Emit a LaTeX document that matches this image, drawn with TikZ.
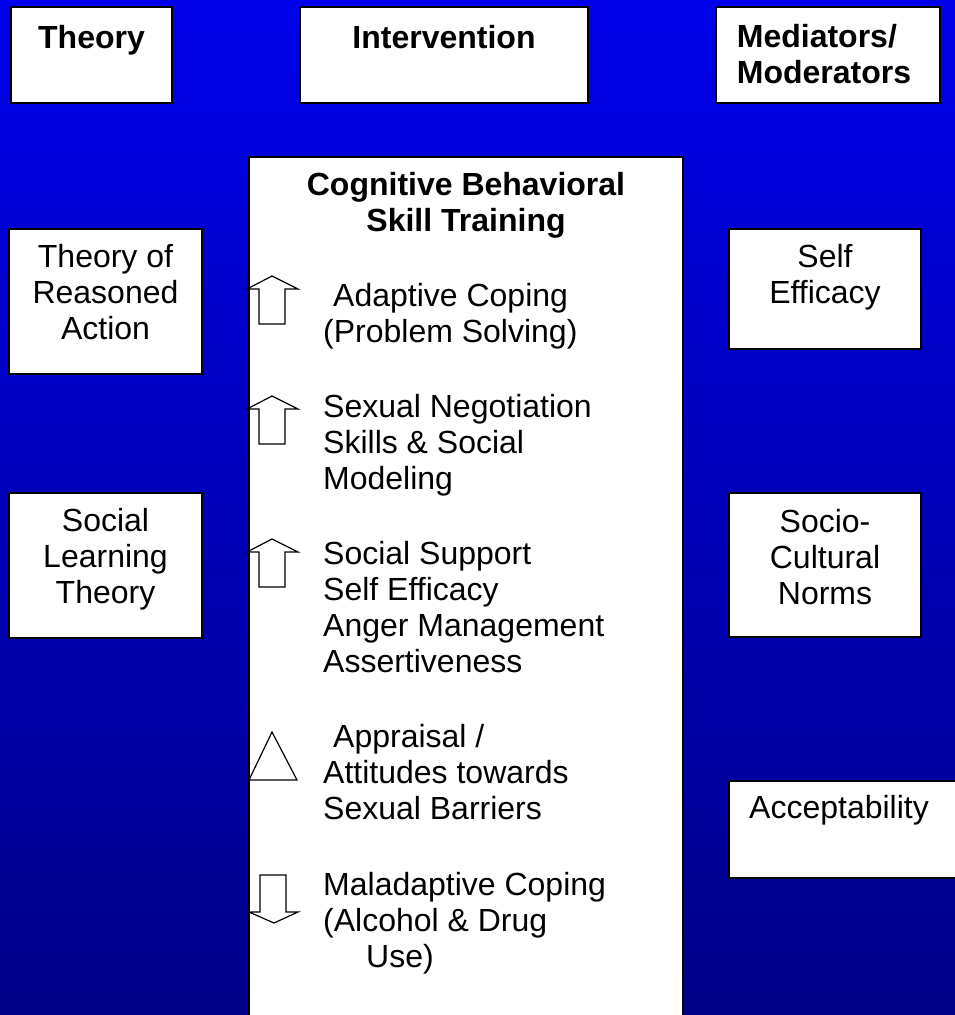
\documentclass[tikz,border=0pt]{standalone}
\usepackage{fontspec}
\setmainfont{Liberation Sans}
\usetikzlibrary{positioning}
\definecolor{bgtop}{RGB}{0,0,235}
\definecolor{bgmid}{RGB}{0,0,185}
\definecolor{bgbot}{RGB}{0,0,135}
\begin{document}
\begin{tikzpicture}[x=1pt,y=-1pt,
  box/.style={draw=black,fill=white,line width=2pt,inner sep=0pt,anchor=north west},
  txt/.style={inner sep=0pt,align=center,font=\fontsize{32}{36}\selectfont},
  head/.style={inner sep=0pt,align=center,font=\fontsize{32}{36}\selectfont\bfseries},
  item/.style={inner sep=0pt,align=left,anchor=north west,font=\fontsize{32}{36}\selectfont},
  sym/.style={draw=black,fill=white,line width=1.2pt,line join=miter}]
\useasboundingbox (0,0) rectangle (954,1015);
\shade[top color=bgtop,middle color=bgmid,bottom color=bgbot] (-5,-5) rectangle (960,1020);
\node[box,minimum width=161,minimum height=96] (theory) at (10,6) {};
\node[box,minimum width=288,minimum height=96] (interv) at (299,6) {};
\node[box,minimum width=224,minimum height=96] (medi) at (715,6) {};
\node[head,below=19pt of theory.north] (theory-t) {Theory};
\node[head,below=19pt of interv.north] (interv-t) {Intervention};
\node[head,align=left,below=18pt of medi.north,xshift=-4pt] (medi-t) {Mediators/\\Moderators};
\node[box,minimum width=434,minimum height=880] (cbst) at (248,156) {};
\node[head,below=16pt of cbst.north] (cbst-t) {Cognitive Behavioral\\Skill Training};
\node[box,minimum width=193,minimum height=145] (tra) at (8,228) {};
\node[box,minimum width=193,minimum height=145] (slt) at (8,492) {};
\node[txt,below=16.5pt of tra.north] (tra-t) {Theory of\\Reasoned\\Action};
\node[txt,below=16.5pt of slt.north] (slt-t) {Social\\Learning\\Theory};
\node[box,minimum width=192,minimum height=120] (selfeff) at (728,228) {};
\node[box,minimum width=192,minimum height=144] (norms) at (728,492) {};
\node[box,minimum width=240,minimum height=97] (accept) at (728,780) {};
\node[txt,below=16pt of selfeff.north] (selfeff-t) {Self\\Efficacy};
\node[txt,below=17pt of norms.north] (norms-t) {Socio-\\Cultural\\Norms};
\node[txt,anchor=north west] (accept-t) at (749,795) {Acceptability};
\node[item] (coping) at (323,283) {\hspace*{10pt}Adaptive Coping\\(Problem Solving)};
\node[item] (negot) at (323,394) {Sexual Negotiation\\Skills \& Social\\Modeling};
\node[item] (support) at (323,541) {Social Support\\Self Efficacy\\Anger Management\\Assertiveness};
\node[item] (apprais) at (323,724) {\hspace*{10pt}Appraisal /\\Attitudes towards\\Sexual Barriers};
\node[item] (malad) at (323,872) {Maladaptive Coping\\(Alcohol \& Drug\\\hspace*{43pt}Use)};
\foreach \t in {276,396,539}
{
\draw[sym] (272,\t) -- (298,\t+13) -- (285,\t+13) -- (285,\t+48) -- (259,\t+48) -- (259,\t+13) -- (247,\t+13) -- cycle;
}
\draw[sym] (272,732) -- (297,780) -- (249,780) -- cycle;
\draw[sym] (260,875) -- (286,875) -- (286,912) -- (298,912) -- (274,923) -- (249,912) -- (260,912) -- cycle;
\end{tikzpicture}
\end{document}
